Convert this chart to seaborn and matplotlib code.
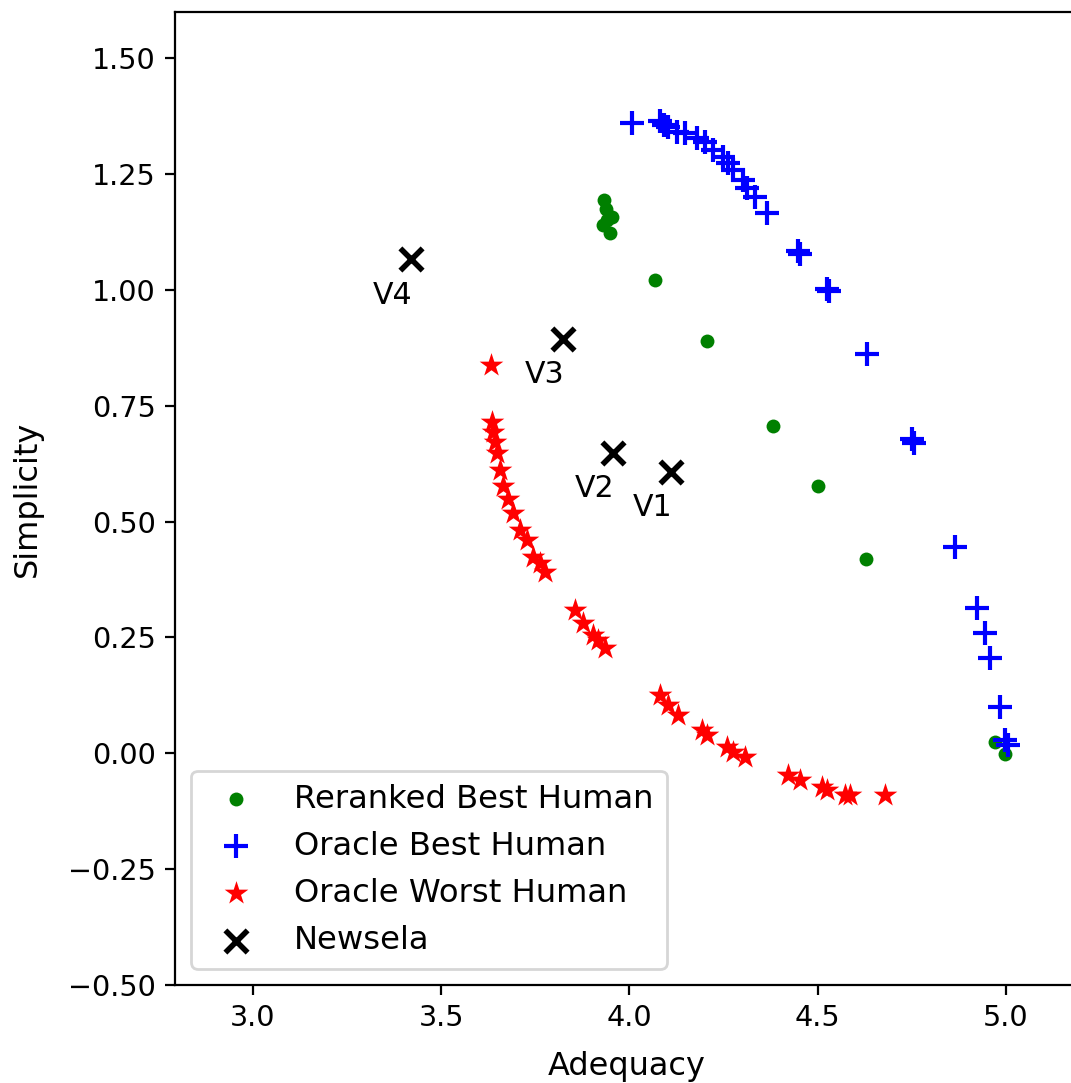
import matplotlib
matplotlib.use("Agg")
import matplotlib.pyplot as plt
import seaborn as sns

# ---- data ----
reranked_x = [3.932, 3.938, 3.940, 3.954, 3.930, 3.948, 4.068, 4.206, 4.381, 4.501, 4.628, 4.971, 4.997]
reranked_y = [1.195, 1.174, 1.152, 1.157, 1.141, 1.122, 1.021, 0.889, 0.707, 0.576, 0.420, 0.025, -0.001]

oracle_best_x = [4.007, 4.081, 4.092, 4.102, 4.126, 4.147, 4.179, 4.200, 4.222, 4.248, 4.262, 4.275,
                 4.301, 4.312, 4.333, 4.365, 4.447, 4.453, 4.525, 4.530, 4.631, 4.750, 4.756,
                 4.865, 4.923, 4.944, 4.957, 4.984, 4.997, 5.005]
oracle_best_y = [1.360, 1.364, 1.357, 1.351, 1.342, 1.338, 1.329, 1.319, 1.303, 1.288, 1.275, 1.260,
                 1.238, 1.221, 1.201, 1.167, 1.084, 1.078, 1.003, 0.997, 0.861, 0.679, 0.670,
                 0.446, 0.314, 0.260, 0.206, 0.100, 0.029, 0.018]

oracle_worst_x = [3.632, 3.635, 3.637, 3.643, 3.648, 3.656, 3.664, 3.677, 3.691, 3.709, 3.728, 3.744,
                  3.762, 3.776, 3.855, 3.876, 3.903, 3.916, 3.935, 4.081, 4.102, 4.129, 4.193, 4.206,
                  4.259, 4.275, 4.307, 4.421, 4.453, 4.511, 4.525, 4.572, 4.586, 4.679]
oracle_worst_y = [0.839, 0.716, 0.694, 0.671, 0.649, 0.612, 0.576, 0.548, 0.519, 0.483, 0.461, 0.424,
                  0.411, 0.392, 0.310, 0.282, 0.256, 0.245, 0.227, 0.126, 0.105, 0.083, 0.051, 0.040,
                  0.014, 0.003, -0.008, -0.046, -0.057, -0.072, -0.079, -0.090, -0.090, -0.090]

newsela_x = [4.110, 3.956, 3.823, 3.420]
newsela_y = [0.608, 0.649, 0.895, 1.066]
newsela_labels = ["V1", "V2", "V3", "V4"]

yticks = [-0.50, -0.25, 0.00, 0.25, 0.50, 0.75, 1.00, 1.25, 1.50]
xticks = [3.0, 3.5, 4.0, 4.5, 5.0]

W, H, DPI = 1071, 1083, 200
fig = plt.figure(figsize=(W / DPI, H / DPI), dpi=DPI)
left, right, bottom, top = 175, 1079, 985, 12
ax = fig.add_axes([left / W, 1 - bottom / H, (right - left) / W, (bottom - top) / H])

sns.scatterplot(x=reranked_x, y=reranked_y, ax=ax, color="green", marker="o", s=25,
                linewidth=0, label="Reranked Best Human")
sns.scatterplot(x=oracle_best_x, y=oracle_best_y, ax=ax, color="blue", marker="+", s=70,
                linewidth=1.5, label="Oracle Best Human")
sns.scatterplot(x=oracle_worst_x, y=oracle_worst_y, ax=ax, color="red", marker="*", s=80,
                linewidth=0, label="Oracle Worst Human")
sns.scatterplot(x=newsela_x, y=newsela_y, ax=ax, color="black", marker="x", s=64,
                linewidth=2, label="Newsela")

for xv, yv, lab in zip(newsela_x, newsela_y, newsela_labels):
    ax.annotate(lab, (xv, yv), xytext=(-6.5, -13), textcoords="offset points",
                ha="center", va="center", fontsize=10.8)

ax.set_xlim(2.793, 5.194)
ax.set_ylim(-0.5, 1.6)
ax.set_xticks(xticks)
ax.set_yticks(yticks)
ax.set_xticklabels([f"{v:.1f}" for v in xticks])
ax.set_yticklabels([f"{v:.2f}".replace("-", "\u2212") for v in yticks])
ax.tick_params(labelsize=10.3, length=3.5, width=0.8)
ax.set_xlabel("Adequacy", fontsize=11.5, labelpad=6.5)
ax.set_ylabel("Simplicity", fontsize=11.5, labelpad=9)
ax.legend(loc="lower left", fontsize=11.6)

fig.savefig("out.png", dpi=DPI)
